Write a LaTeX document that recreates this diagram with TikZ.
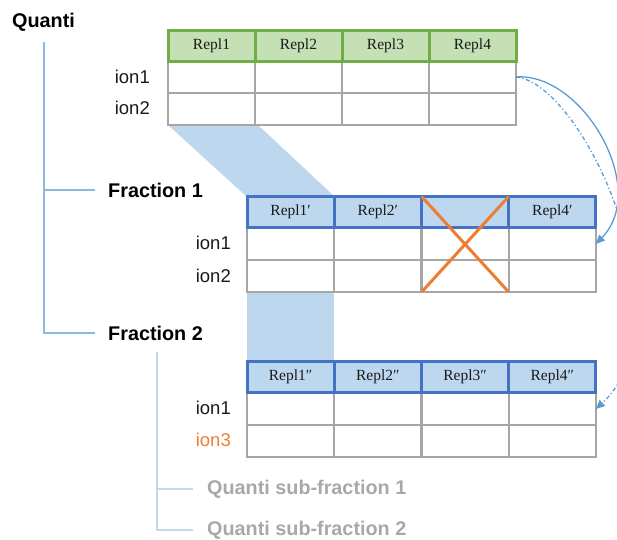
\documentclass[tikz,border=0pt]{standalone}
\usepackage{fontspec}
\setmainfont{Liberation Sans}
\newfontfamily\hfont{Liberation Serif}
\usetikzlibrary{arrows.meta}
\definecolor{gfill}{HTML}{C5E0B4}
\definecolor{gline}{HTML}{70AD47}
\definecolor{bfill}{HTML}{BDD7EE}
\definecolor{bline}{HTML}{4472C4}
\definecolor{grid}{HTML}{A6A6A6}
\definecolor{treeA}{HTML}{8FB8E0}
\definecolor{treeB}{HTML}{C3D8EF}
\definecolor{subtxt}{HTML}{AAA7A7}
\definecolor{orng}{HTML}{ED7D31}
\definecolor{arr}{HTML}{5B9BD5}
\definecolor{txt}{HTML}{1A1A1A}
\tikzset{
  cellbox/.style={draw=grid, line width=2pt, minimum width=87pt, minimum height=32pt, inner sep=0pt, outer sep=0pt},
  hdrbase/.style={line width=3pt, minimum width=87pt, minimum height=31pt, inner sep=0pt, outer sep=0pt, font=\hfont\fontsize{15.5}{15.5}\selectfont, text=txt},
  hdrG/.style={hdrbase, draw=gline, fill=gfill},
  hdrB/.style={hdrbase, draw=bline, fill=bfill},
  ionlab/.style={anchor=east, inner sep=0pt, font=\fontsize{18.5}{18.5}\selectfont, text=txt},
  titlab/.style={anchor=west, inner sep=0pt, font=\bfseries\fontsize{19.8}{19.8}\selectfont, text=black},
  sublab/.style={anchor=west, inner sep=0pt, font=\bfseries\fontsize{19.8}{19.8}\selectfont, text=subtxt},
  treeline/.style={draw=treeA, line width=1.6pt},
  treeline2/.style={draw=treeB, line width=1.6pt},
  band/.style={fill=bfill, draw=none},
  crossline/.style={draw=orng, line width=3pt},
  flowarr/.style={draw=arr, line width=1.3pt, -{Triangle[length=9pt,width=8pt]}},
}
\begin{document}
\begin{tikzpicture}[x=1pt,y=-1pt]
\useasboundingbox (0,0) rectangle (617,539);
\clip (0,0) rectangle (617,539);

% bands
\fill[band] (168,125) -- (258,125) -- (334,196) -- (246,196) -- cycle;
\fill[band] (247,292) rectangle (334,361);

% table 1
\foreach \i in {1,...,4}{
  \node[cellbox] (t1-1-\i) at ({168+87*(\i-0.5)},77) {};
  \node[cellbox] (t1-2-\i) at ({168+87*(\i-0.5)},109) {};
}
\foreach \i/\t in {1/Repl1,2/Repl2,3/Repl3,4/Repl4}{
  \node[hdrG] (t1h\i) at ({168+87*(\i-0.5)},45.5) {\t};
}
% table 2
\foreach \i in {1,...,4}{
  \node[cellbox] (t2-1-\i) at ({247+87.25*(\i-0.5)},244) {};
  \node[cellbox] (t2-2-\i) at ({247+87.25*(\i-0.5)},276) {};
}
\foreach \i/\t in {1/Repl1′,2/Repl2′,3/{},4/Repl4′}{
  \node[hdrB] (t2h\i) at ({247+87.25*(\i-0.5)},212) {\t};
}
% table 3
\foreach \i in {1,...,4}{
  \node[cellbox] (t3-1-\i) at ({247+87.25*(\i-0.5)},409) {};
  \node[cellbox] (t3-2-\i) at ({247+87.25*(\i-0.5)},441) {};
}
\foreach \i/\t in {1/Repl1″,2/Repl2″,3/Repl3″,4/Repl4″}{
  \node[hdrB] (t3h\i) at ({247+87.25*(\i-0.5)},377) {\t};
}

% cross
\draw[crossline] (t2h3.north west) -- (t2-2-3.south east);
\draw[crossline] (t2h3.north east) -- (t2-2-3.south west);

% row labels
\node[ionlab] (l11) at (150,77) {ion1};
\node[ionlab] (l12) at (150,108) {ion2};
\node[ionlab] (l21) at (231,243) {ion1};
\node[ionlab] (l22) at (231,276) {ion2};
\node[ionlab] (l31) at (231,408) {ion1};
\node[ionlab, text=orng] (l32) at (231,440) {ion3};

% tree
\node[titlab] (quanti) at (12,22) {Quanti};
\node[titlab] (frac1) at (108,190) {Fraction 1};
\node[titlab] (frac2) at (108,333) {Fraction 2};
\node[sublab] (sub1) at (207,489) {Quanti sub-fraction 1};
\node[sublab] (sub2) at (207,530) {Quanti sub-fraction 2};
\coordinate (qroot) at (44,42);
\coordinate (f1end) at (95,190);
\coordinate (f2end) at (95,333);
\draw[treeline] (qroot) |- (f2end);
\draw[treeline] (qroot |- f1end) -- (f1end);
\coordinate (sroot) at (157,352);
\coordinate (s1end) at (193,489);
\coordinate (s2end) at (193,530);
\draw[treeline2] (sroot) |- (s2end);
\draw[treeline2] (sroot |- s1end) -- (s1end);

% arrows
\draw[flowarr] (t1-1-4.east) .. controls (582,72) and (650,188) .. (t2-1-4.east);
\draw[flowarr, dash pattern=on 4pt off 2.5pt on 1.2pt off 2.5pt] (t1-1-4.east) .. controls (585,84) and (690,322) .. (t3-1-4.east);
\end{tikzpicture}
\end{document}
